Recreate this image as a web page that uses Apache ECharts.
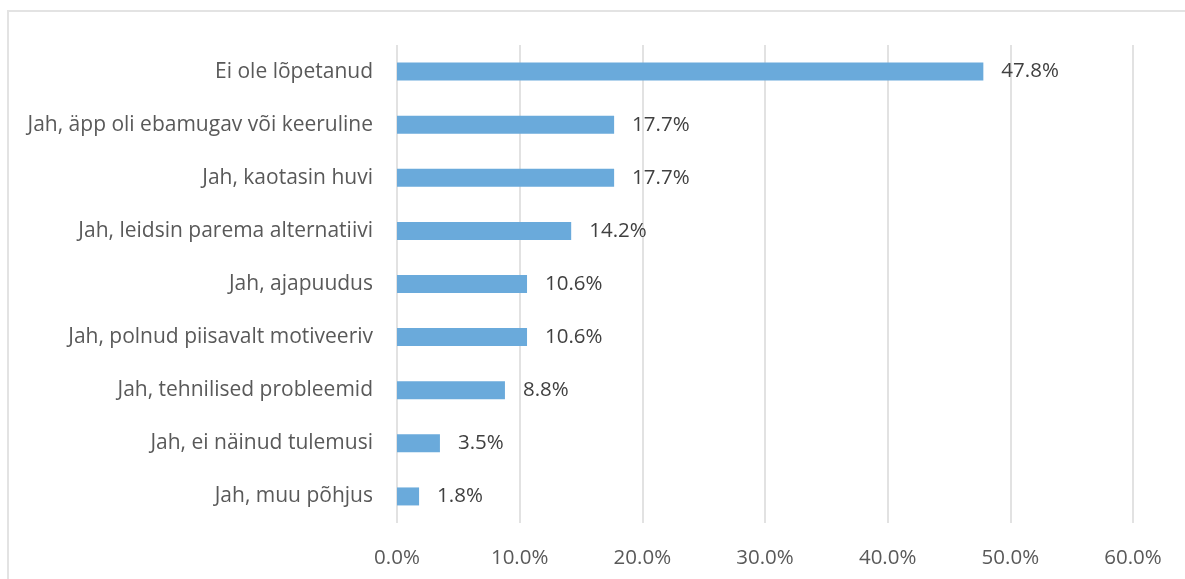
<!DOCTYPE html>
<html>
<head>
<meta charset="utf-8">
<script src="https://cdn.jsdelivr.net/npm/echarts@6/dist/echarts.min.js"></script>
<style>
  html, body { margin: 0; padding: 0; background: #fff; }
  #frame { position: absolute; left: 7px; top: 10px; width: 1200px; height: 600px;
           border-left: 2px solid #e3e3e3; border-top: 2px solid #e3e3e3; }
  #chart { position: absolute; left: 0; top: 0; width: 1185px; height: 579px; }
</style>
</head>
<body>
<div id="frame"></div>
<div id="chart"></div>
<script>
// categories top to bottom
const categories = [
  'Ei ole lõpetanud',
  'Jah, äpp oli ebamugav või keeruline',
  'Jah, kaotasin huvi',
  'Jah, leidsin parema alternatiivi',
  'Jah, ajapuudus',
  'Jah, polnud piisavalt motiveeriv',
  'Jah, tehnilised probleemid',
  'Jah, ei näinud tulemusi',
  'Jah, muu põhjus'
];
const shares = [47.8, 17.7, 17.7, 14.2, 10.6, 10.6, 8.8, 3.5, 1.8];

const font = '"Open Sans", "Noto Sans", sans-serif';

let chart = echarts.init(document.getElementById('chart'));
chart.setOption({
  animation: false,
  grid: { left: 397, right: 52, top: 45, bottom: 56 },
  xAxis: {
    type: 'value',
    min: 0,
    max: 60,
    interval: 10,
    axisLine: { show: false },
    axisTick: { show: false },
    axisLabel: {
      formatter: v => v.toFixed(1) + '%',
      color: '#595959',
      fontFamily: font,
      fontSize: 20.5,
      margin: 25
    },
    splitLine: { lineStyle: { color: '#d9d9d9', width: 1.5 } }
  },
  yAxis: {
    type: 'category',
    inverse: true,
    data: categories,
    axisLine: { show: false },
    axisTick: { show: false },
    axisLabel: {
      color: '#595959',
      fontFamily: font,
      fontSize: 21,
      margin: 24,
      padding: [5, 0, 0, 0]
    }
  },
  series: [{
    type: 'bar',
    data: shares,
    barWidth: 18,
    itemStyle: { color: '#6aaadb' },
    label: {
      show: true,
      position: 'right',
      distance: 18,
      padding: [5, 0, 0, 0],
      formatter: p => p.value.toFixed(1) + '%',
      color: '#404040',
      fontFamily: font,
      fontSize: 20.5
    }
  }]
});
</script>
</body>
</html>
